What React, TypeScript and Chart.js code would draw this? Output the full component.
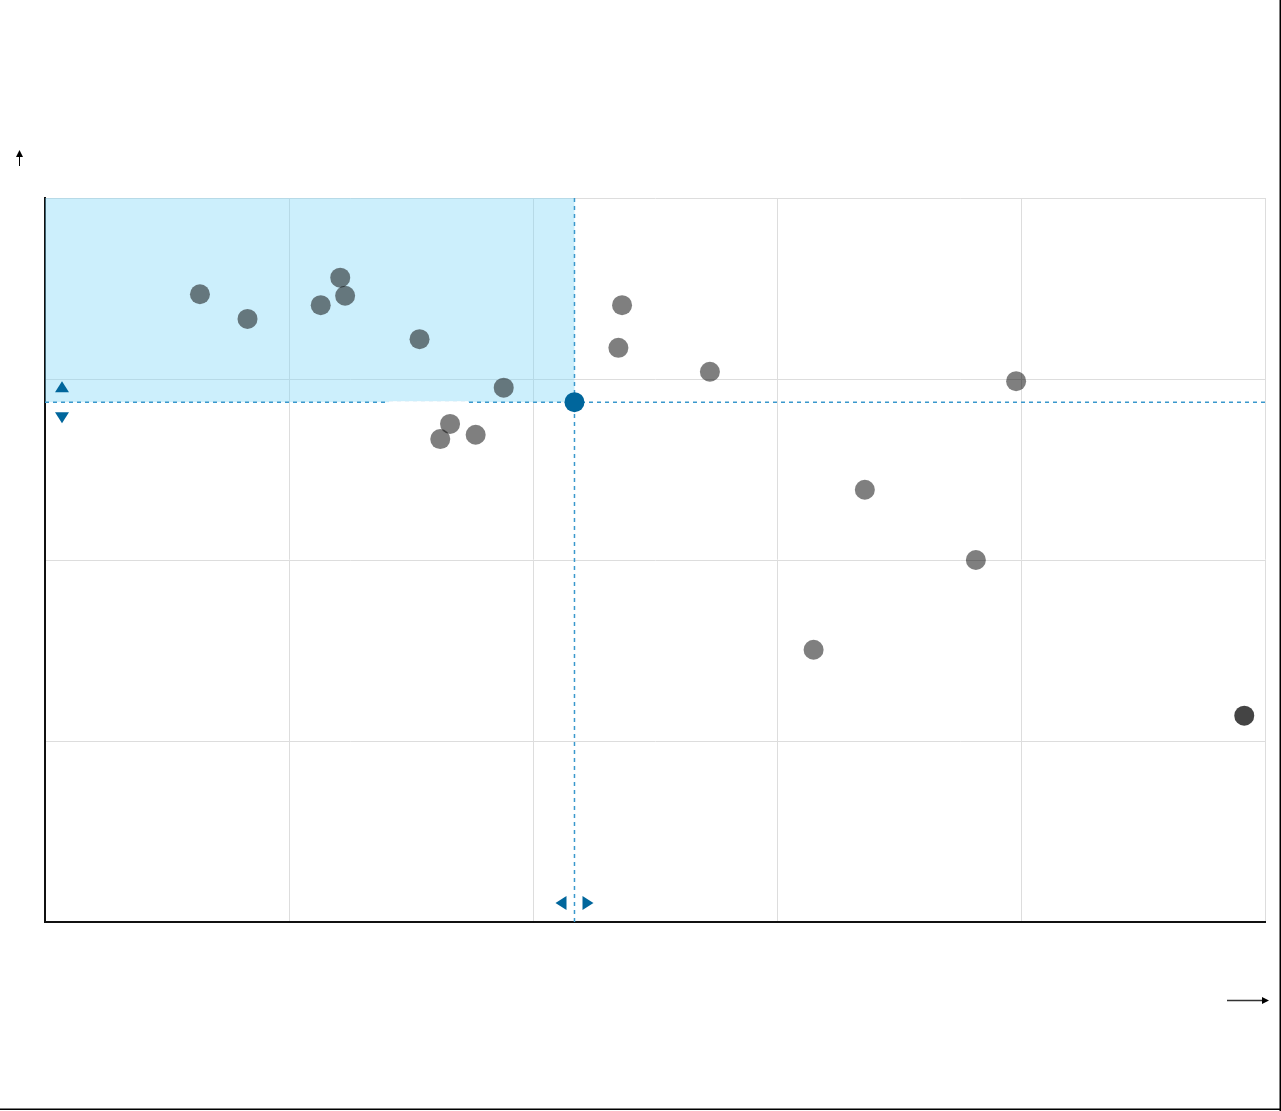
import React, { useEffect, useRef } from "react";
import { Chart, registerables } from "chart.js";

Chart.register(...registerables);

// Data (x: 0–100, y: 0–100)
const grayX = [12.7, 16.6, 22.6, 24.2, 24.6, 30.7, 37.6, 33.2, 32.4, 35.3, 47.3, 47.0, 54.5, 79.6, 67.2, 76.3, 63.0];
const grayY = [86.7, 83.3, 85.2, 89.0, 86.5, 80.5, 73.8, 68.8, 66.7, 67.3, 85.2, 79.3, 76.0, 74.7, 59.7, 50.0, 37.6];
const darkX = [98.3];
const darkY = [28.5];
const highlightX = [43.4];
const highlightY = [71.8];
const xTicks = [0, 20, 40, 60, 80, 100];
const yTicks = [0, 25, 50, 75, 100];

const toPoints = (xs: number[], ys: number[]) => xs.map((x, i) => ({ x, y: ys[i] }));

const BLUE = "#00669c";
const DASH = "#3a98cc";

const overlayPlugin = {
  id: "overlay",
  beforeDatasetsDraw(chart: any) {
    const { ctx, chartArea, scales } = chart;
    const tx = scales.x.getPixelForValue(highlightX[0]);
    const ty = scales.y.getPixelForValue(highlightY[0]);
    ctx.save();
    ctx.fillStyle = "rgba(128, 216, 248, 0.4)";
    ctx.fillRect(chartArea.left, chartArea.top, tx - chartArea.left, ty - chartArea.top);
    // dashed lines
    ctx.strokeStyle = DASH;
    ctx.lineWidth = 1.5;
    ctx.setLineDash([4, 4]);
    ctx.beginPath();
    ctx.moveTo(chartArea.left, ty);
    ctx.lineTo(chartArea.right, ty);
    ctx.moveTo(tx, chartArea.top);
    ctx.lineTo(tx, chartArea.bottom);
    ctx.stroke();
    ctx.setLineDash([]);
    // gap in horizontal line
    ctx.fillStyle = "#ffffff";
    ctx.fillRect(389, ty - 1, 79, 3);
    // triangles
    ctx.fillStyle = BLUE;
    const tri = (pts: number[][]) => {
      ctx.beginPath();
      ctx.moveTo(pts[0][0], pts[0][1]);
      ctx.lineTo(pts[1][0], pts[1][1]);
      ctx.lineTo(pts[2][0], pts[2][1]);
      ctx.closePath();
      ctx.fill();
    };
    const lx = chartArea.left + 17;
    tri([[lx, ty - 21], [lx - 7, ty - 10], [lx + 7, ty - 10]]);
    tri([[lx, ty + 21], [lx - 7, ty + 10], [lx + 7, ty + 10]]);
    const by = chartArea.bottom - 19;
    tri([[tx - 19, by], [tx - 8, by - 7], [tx - 8, by + 7]]);
    tri([[tx + 19, by], [tx + 8, by - 7], [tx + 8, by + 7]]);
    ctx.restore();
  },
  afterDraw(chart: any) {
    const { ctx } = chart;
    ctx.save();
    ctx.fillStyle = "#000";
    ctx.strokeStyle = "#000";
    // up arrow
    ctx.lineWidth = 1;
    ctx.beginPath();
    ctx.moveTo(19.5, 166);
    ctx.lineTo(19.5, 154);
    ctx.stroke();
    ctx.beginPath();
    ctx.moveTo(19.5, 150);
    ctx.lineTo(16, 157);
    ctx.lineTo(23, 157);
    ctx.closePath();
    ctx.fill();
    // right arrow
    ctx.strokeStyle = "#333";
    ctx.lineWidth = 1.5;
    ctx.beginPath();
    ctx.moveTo(1227, 1000.5);
    ctx.lineTo(1264, 1000.5);
    ctx.stroke();
    ctx.beginPath();
    ctx.moveTo(1269, 1000.5);
    ctx.lineTo(1262, 997);
    ctx.lineTo(1262, 1004);
    ctx.closePath();
    ctx.fill();
    // page frame (right, bottom)
    ctx.fillStyle = "#000";
    ctx.fillRect(1279.5, 0, 1.5, 1111);
    ctx.fillRect(0, 1108.5, 1281, 1.5);
    ctx.restore();
  },
};

export default function App() {
  const ref = useRef<HTMLCanvasElement | null>(null);
  useEffect(() => {
    document.body.style.margin = "0";
    const canvas = ref.current;
    if (!canvas) return;
    const chart = new Chart(canvas, {
      type: "scatter",
      data: {
        datasets: [
          {
            data: toPoints(grayX, grayY),
            backgroundColor: "rgba(0,0,0,0.5)",
            borderWidth: 0,
            pointRadius: 10,
            pointHoverRadius: 10,
          },
          {
            data: toPoints(darkX, darkY),
            backgroundColor: "#444444",
            borderWidth: 0,
            pointRadius: 10,
            pointHoverRadius: 10,
          },
          {
            data: toPoints(highlightX, highlightY),
            backgroundColor: BLUE,
            borderWidth: 0,
            pointRadius: 10,
            pointHoverRadius: 10,
          },
        ],
      },
      options: {
        animation: false,
        responsive: false,
        events: [],
        layout: { padding: { left: 45, top: 198, right: 16, bottom: 189 } },
        plugins: { legend: { display: false }, tooltip: { enabled: false } },
        scales: {
          x: {
            type: "linear",
            min: xTicks[0],
            max: xTicks[xTicks.length - 1],
            afterBuildTicks: (axis: any) => {
              axis.ticks = xTicks.map((v) => ({ value: v }));
            },
            ticks: { display: false },
            grid: { color: "#dddddd", lineWidth: 1, drawTicks: false },
            border: { display: true, color: "#111", width: 2 },
          },
          y: {
            type: "linear",
            min: yTicks[0],
            max: yTicks[yTicks.length - 1],
            afterBuildTicks: (axis: any) => {
              axis.ticks = yTicks.map((v) => ({ value: v }));
            },
            ticks: { display: false },
            grid: { color: "#dddddd", lineWidth: 1, drawTicks: false },
            border: { display: true, color: "#111", width: 2 },
          },
        },
      },
      plugins: [overlayPlugin],
    });
    return () => chart.destroy();
  }, []);
  return <canvas ref={ref} width={1281} height={1111} style={{ display: "block" }} />;
}
